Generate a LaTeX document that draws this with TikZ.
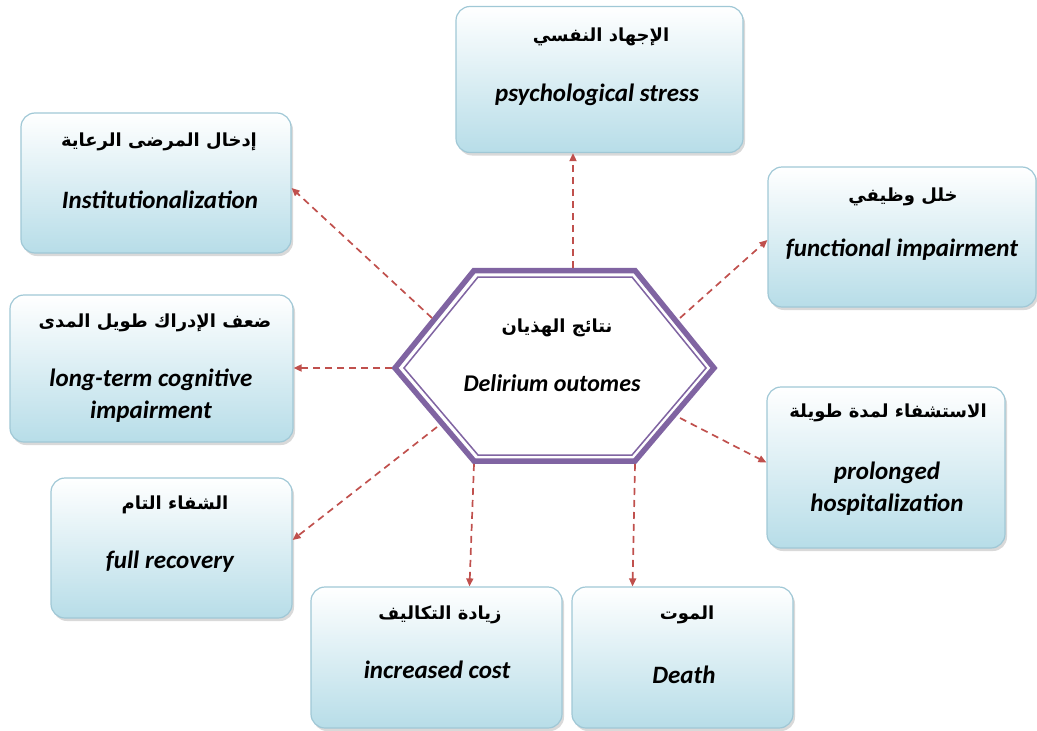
\documentclass[tikz,border=0pt]{standalone}
\usepackage{fontspec}
\setmainfont{Carlito}
\newfontfamily\arabicfont[Script=Arabic]{DejaVu Sans}
\TeXXeTstate=1
\usetikzlibrary{arrows.meta,shadows,calc}
\definecolor{boxblue}{RGB}{183,221,232}
\definecolor{boxborder}{RGB}{160,200,214}
\definecolor{hexpurple}{RGB}{128,100,162}
\definecolor{arrowred}{RGB}{192,80,77}
\tikzset{
  outbox/.style={rectangle, rounded corners=14pt, draw=boxborder, line width=1.2pt,
    top color=white, bottom color=boxblue, inner sep=0pt,
    drop shadow={opacity=0.3, shadow xshift=2pt, shadow yshift=-3pt, fill=gray}},
  artext/.style={font=\arabicfont\bfseries\fontsize{18}{20}\selectfont, inner sep=0pt},
  entext/.style={font=\bfseries\itshape\fontsize{25}{32}\selectfont, align=center, inner sep=0pt},
  outarrow/.style={draw=arrowred, line width=1.7pt, dash pattern=on 7pt off 5pt,
    -{Triangle[length=8pt,width=7pt]}}
}
\begin{document}
\begin{tikzpicture}[x=1pt,y=-1pt]
\useasboundingbox (0,0) rectangle (1037,731);
% boxes
\node[outbox, minimum width=287pt, minimum height=146pt] (psych) at (599.5,79.5) {};
\node[outbox, minimum width=270pt, minimum height=140pt] (inst) at (156,183) {};
\node[outbox, minimum width=268pt, minimum height=140pt] (func) at (902,237) {};
\node[outbox, minimum width=283pt, minimum height=147pt] (long) at (151.5,368.5) {};
\node[outbox, minimum width=238pt, minimum height=161pt] (prol) at (886,467.5) {};
\node[outbox, minimum width=241pt, minimum height=140pt] (full) at (171.5,548) {};
\node[outbox, minimum width=251pt, minimum height=141pt] (cost) at (436.5,657.5) {};
\node[outbox, minimum width=221pt, minimum height=141pt] (death) at (682.5,657.5) {};
% hexagon
\fill[white] (395,368) -- (474,270.5) -- (635,270.5) -- (714,368) -- (635,461) -- (474,461) -- cycle;
\draw[hexpurple, line width=5.5pt, line join=miter] (395,368) -- (474,270.5) -- (635,270.5) -- (714,368) -- (635,461) -- (474,461) -- cycle;
\draw[hexpurple, line width=1.5pt, line join=miter] (404,368) -- (478,277) -- (632,277) -- (706,368) -- (632,455) -- (478,455) -- cycle;
% texts
\node[artext] (tpsychA) at (601,37) {\beginR الإجهاد النفسي\endR};
\node[entext] (tpsychE) at (597,95) {psychological stress};
\node[artext] (tinstA) at (159,142) {\beginR إدخال المرضى الرعاية\endR};
\node[entext] (tinstE) at (160,200) {Institutionalization};
\node[artext] (tfuncA) at (903,197) {\beginR خلل وظيفي\endR};
\node[entext] (tfuncE) at (902,250) {functional impairment};
\node[artext] (tlongA) at (155,323) {\beginR ضعف الإدراك طويل المدى\endR};
\node[entext] (tlongE) at (151,396) {long-term cognitive\\impairment};
\node[artext] (thexA) at (557,328) {\beginR نتائج الهذيان\endR};
\node[entext, font=\bfseries\itshape\fontsize{24}{32}\selectfont] (thexE) at (552,383) {Delirium outomes};
\node[artext] (tprolA) at (888,413) {\beginR الاستشفاء لمدة طويلة\endR};
\node[entext] (tprolE) at (887,489) {prolonged\\hospitalization};
\node[artext] (tfullA) at (175,505) {\beginR الشفاء التام\endR};
\node[entext] (tfullE) at (170,562) {full recovery};
\node[artext] (tcostA) at (440,615) {\beginR زيادة التكاليف\endR};
\node[entext] (tcostE) at (437,670) {increased cost};
\node[artext] (tdeathA) at (687,615) {\beginR الموت\endR};
\node[entext] (tdeathE) at (684,675) {Death};
% arrow start points on the hexagon
\coordinate (h1) at (573,268);
\coordinate (h2) at (432,318);
\coordinate (h3) at (680,318);
\coordinate (h4) at (392,368);
\coordinate (h5) at (680,418);
\coordinate (h6) at (437,427);
\coordinate (h7) at (474,464);
\coordinate (h8) at (635,464);
% arrows
\draw[outarrow] (h1) -- (h1 |- psych.south);
\draw[outarrow] (h2) -- ($(inst.east)+(0,5)$);
\draw[outarrow] (h3) -- ($(func.west)+(0,3)$);
\draw[outarrow] (h4) -- (h4 -| long.east);
\draw[outarrow] (h5) -- ($(prol.west)+(0,-5)$);
\draw[outarrow] (h6) -- ($(full.east)+(0,-8)$);
\draw[outarrow] (h7) -- ($(cost.north)+(33,0)$);
\draw[outarrow] (h8) -- ($(death.north)+(-50,0)$);
\end{tikzpicture}
\end{document}
